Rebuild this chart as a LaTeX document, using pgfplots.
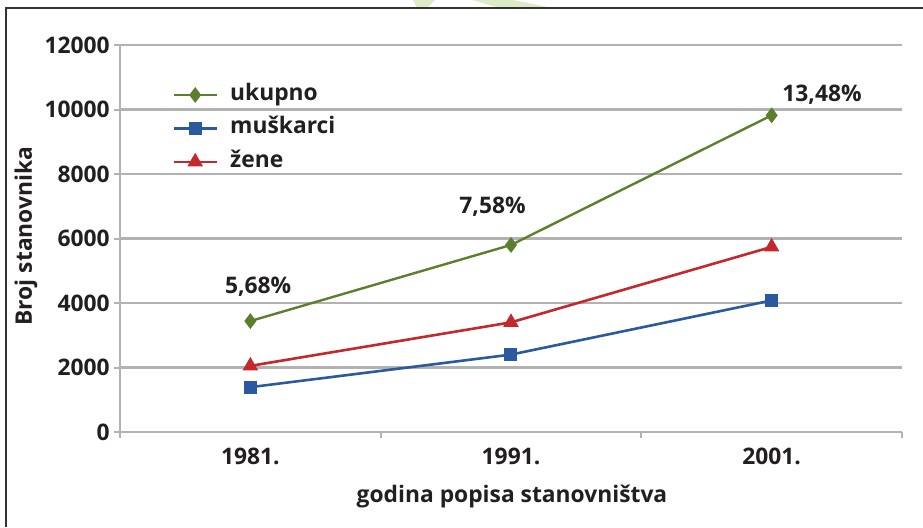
\documentclass[border=0pt]{standalone}
\usepackage{fontspec}
\setmainfont{Open Sans}
\usepackage{pgfplots}
\pgfplotsset{compat=1.18}
\definecolor{cgreen}{HTML}{5C7F2E}
\definecolor{cblue}{HTML}{2B599E}
\definecolor{cred}{HTML}{C4282E}
\definecolor{ctext}{HTML}{231F20}
\definecolor{cgrid}{HTML}{B2B2B2}
\definecolor{cwm}{HTML}{DCEBC8}
\newcommand{\lbl}{\bfseries\fontsize{11.4}{13}\selectfont}
\begin{document}
\begin{tikzpicture}
\path[use as bounding box] (0,0) rectangle (461.5pt,263.5pt);
\fill[cwm] (206.5pt,263.5pt) -- (217.5pt,263.5pt) -- (213.5pt,259.5pt) -- (208.5pt,259.5pt) -- cycle;
\fill[cwm] (236pt,263.5pt) -- (256.5pt,263.5pt) -- (276.5pt,259.5pt) -- (250pt,259.5pt) -- cycle;
\draw[black!80, line width=0.75pt] (3pt,0pt) -- (3pt,259.5pt) -- (461.5pt,259.5pt);
\begin{axis}[
  at={(60pt,47.5pt)}, anchor=south west,
  scale only axis, width=391pt, height=193.5pt,
  xmin=-0.5, xmax=2.5, ymin=0, ymax=12000,
  xtick={0,1,2}, xticklabels={1981.,1991.,2001.},
  minor xtick={-0.5,0.5,1.5,2.5},
  ytick={0,2000,4000,6000,8000,10000,12000},
  axis x line=bottom, axis y line=left,
  axis line style={draw=cgrid, line width=1pt, -},
  ymajorgrids, grid style={draw=cgrid, line width=1.1pt},
  tick align=outside,
  major tick length=3pt, minor tick length=3pt,
  major x tick style={draw=none},
  minor x tick style={draw=cgrid, line width=1pt},
  y tick style={draw=cgrid, line width=1pt},
  scaled y ticks=false,
  /pgf/number format/assume math mode=true,
  /pgf/number format/1000 sep={},
  ticklabel style={font=\lbl, text=ctext},
  yticklabel style={inner sep=0pt, xshift=-2pt},
  xticklabel style={inner sep=0pt, yshift=-5pt},
  clip=false,
  legend cell align=left,
  legend style={draw=none, fill=none, inner sep=0pt,
    at={(axis description cs:0.0665,0.9150)}, anchor=north west,
    font=\lbl, text=ctext,
    nodes={text height=8pt, text depth=2.5pt, inner sep=3.1pt}},
  legend image code/.code={\draw[mark repeat=2,mark phase=2,#1] plot coordinates {(0pt,0pt) (10.75pt,0pt) (21.5pt,0pt)}; \path (24.5pt,0pt);},
]
\addplot[cgreen, line width=1.2pt, mark=diamond*, mark size=3pt, mark options={solid}] coordinates {(0,3440) (1,5800) (2,9820)};
\addlegendentry{ukupno}
\addplot[cblue, line width=1.3pt, mark=square*, mark size=2.6pt] coordinates {(0,1390) (1,2400) (2,4080)};
\addlegendentry{muškarci}
\addplot[cred, line width=1.3pt, mark=triangle*, mark size=3.2pt] coordinates {(0,2050) (1,3400) (2,5740)};
\addlegendentry{žene}
\node[font=\lbl, text=ctext] at (axis cs:0.03,4496) {5,68\%};
\node[font=\lbl, text=ctext] at (axis cs:0.929,6977) {7,58\%};
\node[font=\lbl, text=ctext] at (axis cs:2.193,10450) {13,48\%};
\end{axis}
\node[font=\lbl, text=ctext, rotate=90] at (13pt,145.5pt) {Broj stanovnika};
\node[font=\lbl, text=ctext] at (256pt,15pt) {godina popisa stanovništva};
\end{tikzpicture}
\end{document}
